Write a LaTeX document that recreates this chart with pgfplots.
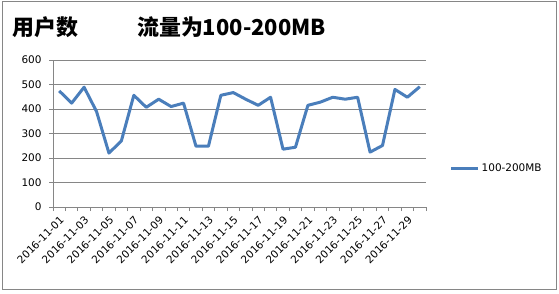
\documentclass[border=0pt]{standalone}
\usepackage{fontspec}
\usepackage{pgfplots}
\pgfplotsset{compat=1.18}
\setmainfont{DejaVu Sans}
\newfontfamily\cjk{Noto Sans CJK SC}
\definecolor{ser}{HTML}{4A7EBB}
\definecolor{gridc}{HTML}{868686}
\begin{document}
\begin{tikzpicture}[x=1bp,y=1bp]
\useasboundingbox (0,0) rectangle (559,293);
\draw[gridc, line width=0.8bp] (2.7,3.5) rectangle (556,292);
\node[anchor=base west, inner sep=0, font=\cjk\bfseries\fontsize{22}{24}\selectfont] at (12,258) {用户数};
\node[anchor=base west, inner sep=0, font=\cjk\bfseries\fontsize{22}{24}\selectfont] at (137,258) {流量为100-200MB};
\begin{axis}[
  at={(53bp,86bp)}, anchor=south west,
  scale only axis, width=373bp, height=147bp,
  xmin=0.5, xmax=30.5, ymin=0, ymax=600,
  ytick={0,100,...,600},
  xtick={0.5,1.5,...,30.5}, xticklabels={},
  extra x ticks={1,3,...,29},
  extra x tick labels={2016-11-01,2016-11-03,2016-11-05,2016-11-07,2016-11-09,2016-11-11,2016-11-13,2016-11-15,2016-11-17,2016-11-19,2016-11-21,2016-11-23,2016-11-25,2016-11-27,2016-11-29},
  extra x tick style={major tick length=0pt, grid=none},
  xticklabel style={rotate=45, anchor=east, inner sep=0pt, xshift=-6bp, yshift=-10bp},
  yticklabel style={xshift=-4bp},
  axis x line*=bottom, axis y line*=left,
  axis line style={gridc, line width=0.8bp, -},
  ymajorgrids, major grid style={gridc, line width=0.8bp},
  tick style={gridc, line width=0.8bp},
  major tick length=4bp,
  xtick align=outside, ytick align=outside,
  ticklabel style={font=\fontsize{10.5}{12}\selectfont, text=black},
  /pgf/number format/assume math mode=true,
  legend style={at={(axis description cs:1.063,0.265)}, anchor=west, draw=none, fill=none, font=\fontsize{10.5}{12}\selectfont, inner sep=0pt},
  legend image code/.code={\draw[#1] (0bp,0bp) -- (27bp,0bp);},
]
\addplot[ser, line width=3bp, line join=round] coordinates {
(1,474) (2,424) (3,489) (4,390) (5,220) (6,270) (7,456) (8,407) (9,440) (10,410)
(11,424) (12,248) (13,248) (14,456) (15,467) (16,440) (17,415) (18,448) (19,236) (20,244)
(21,415) (22,428) (23,448) (24,440) (25,448) (26,224) (27,251) (28,480) (29,448) (30,491)
};
\addlegendentry{100-200MB}
\end{axis}
\end{tikzpicture}
\end{document}
